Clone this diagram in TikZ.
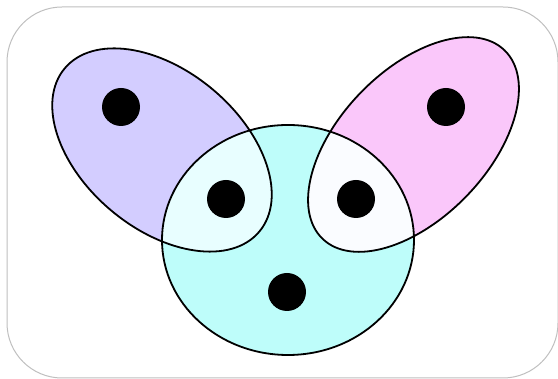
\documentclass[tikz,border=0pt]{standalone}
\usepackage{xcolor}
\usepackage{tikz}
\usetikzlibrary{positioning}

\definecolor{setA}{RGB}{211,205,255}
\definecolor{setB}{RGB}{250,199,250}
\definecolor{setC}{RGB}{190,253,250}
\definecolor{lensAC}{RGB}{232,254,255}
\definecolor{lensBC}{RGB}{250,252,255}

\begin{document}
\begin{tikzpicture}[x=1pt,y=1pt,
 dot/.style={circle,fill=black,minimum size=38pt,inner sep=0pt},
 rim/.style={draw=black,line width=1.8pt},
 shapeA/.style={insert path={[rotate around={-40:(162,229)}] (162,229) ellipse (127 and 79)}},
 shapeB/.style={insert path={[rotate around={46:(413.5,234.5)}] (413.5,234.5) ellipse (131 and 74)}},
 shapeC/.style={insert path={(288,139) ellipse (126 and 115)}}]
\useasboundingbox (0,0) rectangle (558,379);
\draw[black!25,line width=1pt,rounded corners=55pt] (7,1) rectangle (558,372);
% fills
\fill[setA,shapeA];
\fill[setB,shapeB];
\fill[setC,shapeC];
\begin{scope}
 \clip[shapeA];
 \fill[lensAC,shapeC];
\end{scope}
\begin{scope}
 \clip[shapeB];
 \fill[lensBC,shapeC];
\end{scope}
% outlines
\path[rim,shapeA];
\path[rim,shapeB];
\path[rim,shapeC];
% elements
\node[dot] (a) at (121,272) {};
\node[dot] (b) at (446,272) {};
\node[dot] (ac) at (226,180) {};
\node[dot] (bc) at (356,180) {};
\node[dot] (c) at (287,87) {};
\end{tikzpicture}
\end{document}
